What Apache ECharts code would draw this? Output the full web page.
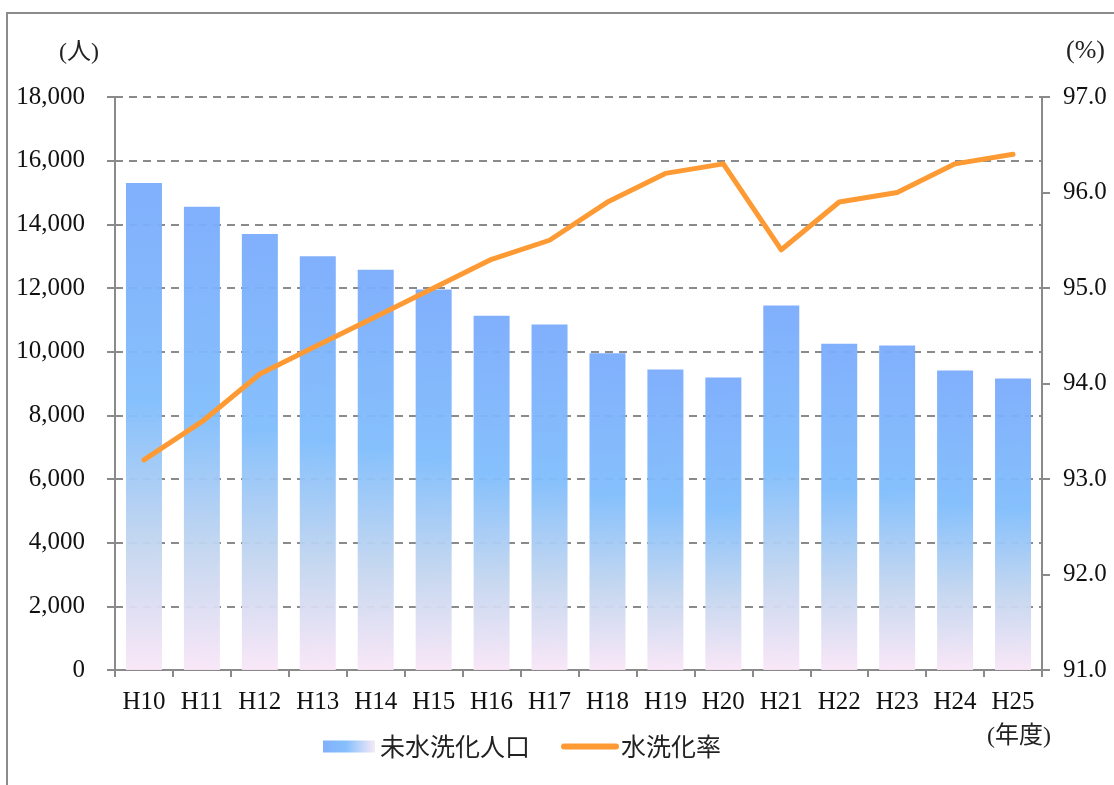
<!DOCTYPE html>
<html>
<head>
<meta charset="utf-8">
<script src="https://cdn.jsdelivr.net/npm/echarts@6/dist/echarts.min.js"></script>
<style>html,body{margin:0;padding:0;background:#fff;}#c{width:1114px;height:785px;}</style>
</head>
<body>
<div id="c"></div>
<script>
const categories = ['H10','H11','H12','H13','H14','H15','H16','H17','H18','H19','H20','H21','H22','H23','H24','H25'];
const unwashedPopulation = [15300,14550,13700,13000,12570,11950,11130,10850,9950,9440,9190,11450,10250,10190,9410,9160];
const flushRate = [93.2,93.6,94.1,94.4,94.7,95.0,95.3,95.5,95.9,96.2,96.3,95.4,95.9,96.0,96.3,96.4];
const leftTicks = {min:0, max:18000, interval:2000};
const rightTicks = {min:91, max:97, interval:1};

const serif = "'Liberation Serif', 'Noto Sans CJK JP', serif";
const cjk = "'Noto Sans CJK JP', sans-serif";
const gray = '#8a8a8a';

const barGrad = new echarts.graphic.LinearGradient(0, 0, 0.25, 1, [
  {offset: 0, color: '#7aabfc'},
  {offset: 0.45, color: '#80bdfc'},
  {offset: 0.75, color: '#c4d6ef'},
  {offset: 1, color: '#f8e6f7'}
]);
const legendGrad = new echarts.graphic.LinearGradient(0, 0, 1, 0, [
  {offset: 0, color: '#7aabfc'},
  {offset: 0.45, color: '#80bdfc'},
  {offset: 1, color: '#f5e8f6'}
]);

const chart = echarts.init(document.getElementById('c'));
chart.setOption({
  animation: false,
  backgroundColor: '#fff',
  grid: {left: 115, right: 72, top: 97, bottom: 115},
  legend: {
    left: 318, top: 729,
    itemWidth: 52, itemHeight: 12, itemGap: 31,
    textStyle: {fontFamily: cjk, fontSize: 25, color: '#222'},
    data: [
      {name: '未水洗化人口', icon: 'rect', itemStyle: {color: legendGrad}},
      {name: '水洗化率', itemStyle: {color: 'rgba(0,0,0,0)', opacity: 0}, lineStyle: {color: '#fe9a33', width: 6, cap: 'round'}}
    ]
  },
  xAxis: {
    type: 'category',
    data: categories,
    axisLine: {lineStyle: {color: gray, width: 2}},
    axisTick: {show: true, length: 7, lineStyle: {color: gray, width: 2}},
    axisLabel: {fontFamily: serif, fontSize: 25, color: '#111', margin: 20}
  },
  yAxis: [
    {
      type: 'value', min: leftTicks.min, max: leftTicks.max, interval: leftTicks.interval,
      axisLine: {show: true, lineStyle: {color: gray, width: 2}},
      axisTick: {show: true, length: 8, lineStyle: {color: gray, width: 2}},
      axisLabel: {fontFamily: serif, fontSize: 25, color: '#111', margin: 30,
        formatter: v => v.toLocaleString('en-US')},
      splitLine: {show: true, lineStyle: {color: gray, width: 2, type: [8, 6]}}
    },
    {
      type: 'value', min: rightTicks.min, max: rightTicks.max, interval: rightTicks.interval,
      axisLine: {show: true, lineStyle: {color: gray, width: 2}},
      axisTick: {show: true, length: 8, lineStyle: {color: gray, width: 2}},
      axisLabel: {fontFamily: serif, fontSize: 25, color: '#111', margin: 21,
        formatter: v => v.toFixed(1)},
      splitLine: {show: false}
    }
  ],
  series: [
    {
      name: '未水洗化人口', type: 'bar', data: unwashedPopulation, barWidth: 36,
      itemStyle: {color: barGrad, opacity: 0.95}, z: 2
    },
    {
      name: '水洗化率', type: 'line', yAxisIndex: 1, data: flushRate,
      symbol: 'none', showSymbol: false,
      lineStyle: {color: '#fe9a33', width: 5, cap: 'round', join: 'round'},
      itemStyle: {color: '#fe9a33'}, z: 3
    }
  ],
  graphic: [
    {type: 'polyline', shape: {points: [[7, 785], [7, 13], [1114, 13]]}, style: {stroke: '#8c8c8c', lineWidth: 2, fill: null}, silent: true},
    {type: 'text', left: 59, top: 41, style: {text: '(人)', fontFamily: serif, fontSize: 24, fill: '#222'}},
    {type: 'text', left: 1066, top: 38, style: {text: '(%)', fontFamily: serif, fontSize: 26, fill: '#222'}},
    {type: 'text', left: 987, top: 725, style: {text: '(年度)', fontFamily: serif, fontSize: 24, fill: '#222'}}
  ]
});
</script>
</body>
</html>
